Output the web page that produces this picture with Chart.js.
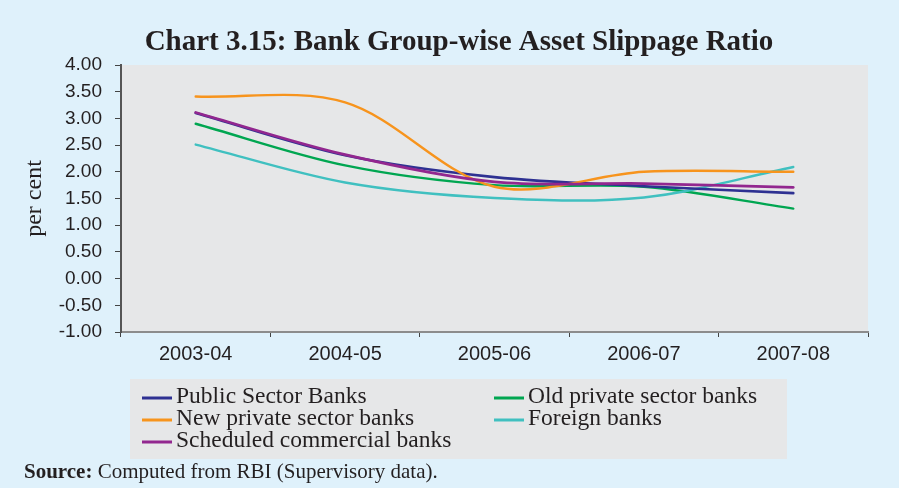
<!DOCTYPE html>
<html>
<head>
<meta charset="utf-8">
<script src="https://cdn.jsdelivr.net/npm/chart.js@4/dist/chart.umd.min.js"></script>
<style>
  html, body { margin: 0; padding: 0; background: #dff1fb; }
  #wrap { position: relative; width: 899px; height: 488px; }
</style>
</head>
<body>
<div id="wrap"><canvas id="c" width="899" height="488"></canvas></div>
<script>
// Asset slippage ratio by bank group (per cent)
const years = ['2003-04', '2004-05', '2005-06', '2006-07', '2007-08'];
const publicSector = [3.10, 2.31, 1.90, 1.73, 1.60];
const oldPrivate   = [2.90, 2.12, 1.75, 1.72, 1.31];
const newPrivate   = [3.41, 3.30, 1.72, 2.00, 2.00];
const foreignBanks = [2.51, 1.80, 1.51, 1.52, 2.09];
const scheduled    = [3.11, 2.32, 1.81, 1.78, 1.71];

const titleText = 'Chart 3.15: Bank Group-wise Asset Slippage Ratio';
const sourceLabel = 'Source:';
const sourceText = ' Computed from RBI (Supervisory data).';

const serif = "'Liberation Serif', 'DejaVu Serif', serif";
const sans = "'Liberation Sans', 'DejaVu Sans', sans-serif";

// Grey panel behind the plotting area
const plotBackground = {
  id: 'plotBackground',
  beforeDraw(chart) {
    const { ctx, chartArea: a } = chart;
    ctx.save();
    ctx.fillStyle = '#e6e7e8';
    ctx.fillRect(a.left, a.top, a.right - a.left, a.bottom - a.top);
    ctx.restore();
  }
};

// Heading, two-column legend in a grey box, and the source note
const decorations = {
  id: 'decorations',
  afterDraw(chart) {
    const ctx = chart.ctx;
    ctx.save();
    ctx.fillStyle = '#231f20';
    ctx.font = 'bold 29px ' + serif;
    ctx.textAlign = 'center';
    ctx.textBaseline = 'alphabetic';
    ctx.fillText(titleText, 459, 50);
    ctx.textAlign = 'left';

    ctx.fillStyle = '#e6e7e8';
    ctx.fillRect(130, 379, 657, 80);
    const cols = [142, 494];
    const rows = [397, 419, 441];
    const slots = [[0, 0], [1, 0], [0, 1], [1, 1], [0, 2]];
    ctx.font = '23.5px ' + serif;
    ctx.textBaseline = 'middle';
    chart.data.datasets.forEach((ds, k) => {
      const x = cols[slots[k][0]];
      const y = rows[slots[k][1]];
      ctx.strokeStyle = ds.borderColor;
      ctx.lineWidth = 3;
      ctx.beginPath();
      ctx.moveTo(x, y + 1);
      ctx.lineTo(x + 30, y + 1);
      ctx.stroke();
      ctx.fillStyle = '#231f20';
      ctx.fillText(ds.label, x + 34, y);
    });
    ctx.textBaseline = 'alphabetic';
    ctx.font = 'bold 21px ' + serif;
    ctx.fillText(sourceLabel, 24, 478);
    const w = ctx.measureText(sourceLabel).width;
    ctx.font = '21px ' + serif;
    ctx.fillText(sourceText, 24 + w, 478);
    ctx.restore();
  }
};

new Chart(document.getElementById('c'), {
  type: 'line',
  data: {
    labels: years,
    datasets: [
      { label: 'Public Sector Banks', data: publicSector, borderColor: '#2e3192', borderWidth: 2.6, order: 2 },
      { label: 'Old private sector banks', data: oldPrivate, borderColor: '#00a651', borderWidth: 2.4, order: 4 },
      { label: 'New private sector banks', data: newPrivate, borderColor: '#f7941d', borderWidth: 2.4, order: 1 },
      { label: 'Foreign banks', data: foreignBanks, borderColor: '#40c0c0', borderWidth: 2.4, order: 3 },
      { label: 'Scheduled commercial banks', data: scheduled, borderColor: '#92278f', borderWidth: 2.8, order: 0 }
    ]
  },
  options: {
    responsive: false,
    animation: false,
    devicePixelRatio: 1,
    layout: { padding: { left: 20, right: 31, top: 65, bottom: 123 } },
    elements: {
      point: { radius: 0, hoverRadius: 0 },
      line: { tension: 0.33, fill: false, borderCapStyle: 'round', borderJoinStyle: 'round' }
    },
    plugins: {
      legend: { display: false },
      tooltip: { enabled: false },
      title: { display: false }
    },
    scales: {
      x: {
        type: 'category',
        offset: true,
        grid: { offset: true, drawOnChartArea: false, tickLength: 5, color: '#444', lineWidth: 1 },
        border: { color: '#8c8c8c', width: 2 },
        ticks: { color: '#231f20', font: { family: sans, size: 20 }, padding: 5, maxRotation: 0 },
        afterFit(scale) { scale.height = 33; }
      },
      y: {
        min: -1,
        max: 4,
        grid: { drawOnChartArea: false, tickLength: 6, color: '#444', lineWidth: 1 },
        border: { color: '#555', width: 2 },
        ticks: {
          stepSize: 0.5,
          color: '#231f20',
          font: { family: sans, size: 19 },
          padding: 13,
          callback: v => v.toFixed(2)
        },
        title: {
          display: true,
          text: 'per cent',
          color: '#231f20',
          font: { family: serif, size: 24 },
          padding: { top: 0, bottom: 0 }
        },
        afterFit(scale) { scale.width = 101; }
      }
    }
  },
  plugins: [plotBackground, decorations]
});
</script>
</body>
</html>
